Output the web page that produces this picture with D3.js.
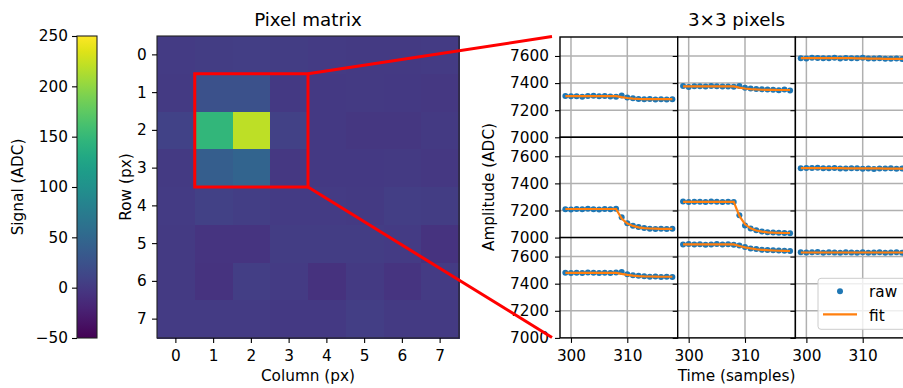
<!DOCTYPE html>
<html>
<head>
<meta charset="utf-8">
<title>Pixel matrix and 3x3 pixels</title>
<script src="https://d3js.org/d3.v7.min.js"></script>
<style>
  body { margin: 0; background: #fff; }
  text { font-family: "DejaVu Sans", sans-serif; fill: #000; }
</style>
</head>
<body>
<script>
// ---- data ----
const rows = [0, 1, 2, 3, 4, 5, 6, 7];
const cols = [0, 1, 2, 3, 4, 5, 6, 7];
const signal = [
  [2, 3, 4, 3, 2, 1, 1, 2],
  [1, 24, 24, 0, 0, 1, 0, -1],
  [9, 148, 220, 8, 0, -2, -2, 1],
  [1, 38, 45, -1, 0, 0, 1, -1],
  [2, 8, 4, 2, 2, 1, 4, 3],
  [1, -5, -5, 3, 3, 3, 2, -6],
  [1, -6, 5, 2, -7, 1, -5, 2],
  [2, 2, 2, 0, 0, 5, 1, 1]
];
const colorbarTicks = [-50, 0, 50, 100, 150, 200, 250];

const samples = [299, 300, 301, 302, 303, 304, 305, 306, 307, 308, 309, 310, 311, 312, 313, 314, 315, 316, 317, 318];
const raw = [
  [7305, 7302, 7303, 7300, 7304, 7306, 7303, 7305, 7301, 7300, 7308, 7293, 7288, 7282, 7280, 7283, 7279, 7281, 7278, 7280],
  [7378, 7372, 7376, 7377, 7375, 7378, 7376, 7374, 7375, 7373, 7378, 7365, 7360, 7356, 7354, 7352, 7350, 7348, 7352, 7346],
  [7584, 7582, 7586, 7585, 7583, 7584, 7586, 7582, 7585, 7583, 7584, 7586, 7581, 7582, 7584, 7580, 7579, 7582, 7578, 7575],
  [7210, 7208, 7211, 7209, 7212, 7210, 7208, 7211, 7209, 7212, 7150, 7105, 7088, 7078, 7070, 7066, 7064, 7066, 7063, 7065],
  [7266, 7262, 7264, 7265, 7263, 7266, 7264, 7262, 7265, 7263, 7165, 7090, 7068, 7055, 7045, 7040, 7037, 7036, 7034, 7033],
  [7512, 7514, 7513, 7515, 7511, 7512, 7514, 7510, 7509, 7512, 7511, 7508, 7510, 7507, 7510, 7509, 7511, 7508, 7510, 7509],
  [7480, 7478, 7481, 7479, 7482, 7480, 7478, 7481, 7479, 7482, 7486, 7470, 7462, 7458, 7455, 7452, 7453, 7450, 7452, 7449],
  [7690, 7692, 7689, 7691, 7688, 7690, 7692, 7689, 7691, 7688, 7682, 7670, 7660, 7655, 7650, 7648, 7646, 7645, 7643, 7641],
  [7632, 7630, 7631, 7633, 7629, 7631, 7630, 7628, 7632, 7630, 7629, 7631, 7628, 7630, 7632, 7629, 7630, 7631, 7628, 7630]
];
const fit = [
  [7304, 7304, 7304, 7304, 7304, 7304, 7304, 7304, 7304, 7304, 7296, 7290, 7286, 7283, 7282, 7281, 7281, 7281, 7281, 7281],
  [7376, 7376, 7376, 7376, 7376, 7376, 7376, 7376, 7376, 7376, 7366, 7360, 7356, 7353, 7351, 7350, 7350, 7349, 7349, 7349],
  [7584, 7584, 7584, 7584, 7584, 7584, 7584, 7584, 7584, 7584, 7583, 7582, 7581, 7580, 7580, 7579, 7579, 7579, 7578, 7578],
  [7211, 7211, 7211, 7211, 7211, 7211, 7211, 7211, 7211, 7211, 7140, 7104, 7086, 7076, 7070, 7067, 7066, 7065, 7065, 7065],
  [7264, 7264, 7264, 7264, 7264, 7264, 7264, 7264, 7264, 7264, 7160, 7098, 7068, 7052, 7044, 7039, 7036, 7035, 7034, 7034],
  [7512, 7512, 7512, 7512, 7512, 7512, 7512, 7512, 7511, 7511, 7511, 7510, 7510, 7510, 7510, 7509, 7509, 7509, 7509, 7509],
  [7480, 7480, 7480, 7480, 7480, 7480, 7480, 7480, 7480, 7480, 7472, 7465, 7460, 7456, 7454, 7453, 7452, 7451, 7451, 7451],
  [7690, 7690, 7690, 7690, 7690, 7690, 7690, 7690, 7690, 7690, 7678, 7668, 7660, 7654, 7650, 7647, 7645, 7643, 7642, 7641],
  [7630, 7630, 7630, 7630, 7630, 7630, 7630, 7630, 7630, 7630, 7630, 7630, 7630, 7630, 7630, 7630, 7630, 7630, 7630, 7630]
];
const timeTicks = [300, 310];
const ampTicks = [7000, 7200, 7400, 7600];
const legendLabels = ["raw", "fit"];

// ---- layout ----
const W = 903, H = 388;
const fs = 15.3, titleFs = 18.3;
const blue = "#1f77b4", orange = "#ff7f0e", gridC = "#b0b0b0";

const svg = d3.select("body").append("svg").attr("width", W).attr("height", H);

// colour scale
const color = d3.scaleSequential(d3.interpolateViridis).domain([-50, 250]);

// colorbar
const cb = { x: 77, w: 20, y0: 36, y1: 338 };
const grad = svg.append("defs").append("linearGradient")
  .attr("id", "viridis").attr("x1", 0).attr("y1", 1).attr("x2", 0).attr("y2", 0);
d3.range(0, 1.0001, 0.05).forEach(t => {
  grad.append("stop").attr("offset", t).attr("stop-color", d3.interpolateViridis(t));
});
svg.append("rect").attr("x", cb.x).attr("y", cb.y0).attr("width", cb.w).attr("height", cb.y1 - cb.y0)
  .attr("fill", "url(#viridis)").attr("stroke", "#222").attr("stroke-width", 1.1);
const cbScale = d3.scaleLinear().domain([-50, 250]).range([cb.y1, cb.y0]);
svg.append("g").attr("transform", `translate(${cb.x},0)`)
  .call(d3.axisLeft(cbScale).tickValues(colorbarTicks).tickSize(5).tickPadding(4));
svg.append("text").attr("transform", `translate(23,187) rotate(-90)`)
  .attr("text-anchor", "middle").style("font-size", fs + "px").text("Signal (ADC)");

// pixel matrix
const mx = { x0: 157, y0: 36, size: 302 };
const xBand = d3.scaleBand().domain(cols).range([mx.x0, mx.x0 + mx.size]);
const yBand = d3.scaleBand().domain(rows).range([mx.y0, mx.y0 + mx.size]);
const cells = [];
rows.forEach(r => cols.forEach(c => cells.push({ r, c, v: signal[r][c] })));
svg.append("g").attr("shape-rendering", "crispEdges").selectAll("rect").data(cells).join("rect")
  .attr("x", d => xBand(d.c)).attr("y", d => yBand(d.r))
  .attr("width", xBand.bandwidth() + 1).attr("height", yBand.bandwidth() + 1)
  .attr("fill", d => color(d.v));
svg.append("rect").attr("x", mx.x0).attr("y", mx.y0).attr("width", mx.size).attr("height", mx.size)
  .attr("fill", "none").attr("stroke", "#222").attr("stroke-width", 1.1);
svg.append("g").attr("transform", `translate(0,${mx.y0 + mx.size})`)
  .call(d3.axisBottom(xBand).tickSize(5).tickPadding(7));
svg.append("g").attr("transform", `translate(${mx.x0},0)`)
  .call(d3.axisLeft(yBand).tickSize(5).tickPadding(5.3));
svg.append("text").attr("x", mx.x0 + mx.size / 2).attr("y", 26).attr("text-anchor", "middle")
  .style("font-size", titleFs + "px").text("Pixel matrix");
svg.append("text").attr("x", mx.x0 + mx.size / 2).attr("y", 381).attr("text-anchor", "middle")
  .style("font-size", fs + "px").text("Column (px)");
svg.append("text").attr("transform", `translate(131,187) rotate(-90)`)
  .attr("text-anchor", "middle").style("font-size", fs + "px").text("Row (px)");

// 3x3 grid of traces
const gridL = 560, gridT = 37, colW = 117.7, rowH = 100.3;
const x = d3.scaleLinear().domain([298.05, 318.95]).range([0, colW]);
const y = d3.scaleLinear().domain([7000, 7740]).range([rowH, 0]);
const line = d3.line().x((d, i) => x(samples[i])).y(d => y(d));

raw.forEach((series, i) => {
  const r = Math.floor(i / 3), c = i % 3;
  const g = svg.append("g").attr("transform", `translate(${gridL + c * colW},${gridT + r * rowH})`);
  g.append("rect").attr("width", colW).attr("height", rowH).attr("fill", "#fff");
  const clipId = "clip" + i;
  g.append("clipPath").attr("id", clipId).append("rect").attr("width", colW).attr("height", rowH);
  const inner = g.append("g").attr("clip-path", `url(#${clipId})`);
  inner.selectAll(".gx").data(timeTicks).join("line")
    .attr("x1", d => x(d)).attr("x2", d => x(d)).attr("y1", 0).attr("y2", rowH)
    .attr("stroke", gridC).attr("stroke-width", 1.5);
  inner.selectAll(".gy").data(ampTicks).join("line")
    .attr("x1", 0).attr("x2", colW).attr("y1", d => y(d)).attr("y2", d => y(d))
    .attr("stroke", gridC).attr("stroke-width", 1.5);
  inner.selectAll("circle").data(series).join("circle")
    .attr("cx", (d, k) => x(samples[k])).attr("cy", d => y(d)).attr("r", 3).attr("fill", blue);
  inner.append("path").datum(fit[i]).attr("d", line)
    .attr("fill", "none").attr("stroke", orange).attr("stroke-width", 2.2);

  const ay = d3.axisLeft(y).tickValues(ampTicks).tickSize(5).tickPadding(6).tickFormat(d3.format("d"));
  if (c > 0) ay.tickFormat("");
  g.append("g").call(ay);
  if (r === 2) {
    g.append("g").attr("transform", `translate(0,${rowH})`)
      .call(d3.axisBottom(x).tickValues(timeTicks).tickSize(5).tickPadding(7));
  }
  g.append("rect").attr("width", colW).attr("height", rowH)
    .attr("fill", "none").attr("stroke", "#000").attr("stroke-width", 1.4);

  if (i === 8) {
    const lg = g.append("g").attr("transform", "translate(22.6,40.7)");
    lg.append("rect").attr("width", 120).attr("height", 51).attr("rx", 3)
      .attr("fill", "#fff").attr("fill-opacity", 0.8).attr("stroke", "#ccc");
    lg.append("circle").attr("cx", 22).attr("cy", 13).attr("r", 3).attr("fill", blue);
    lg.append("line").attr("x1", 5).attr("x2", 39).attr("y1", 36).attr("y2", 36)
      .attr("stroke", orange).attr("stroke-width", 2.2);
    lg.selectAll("text").data(legendLabels).join("text")
      .attr("x", 51).attr("y", (d, k) => 18.5 + k * 24).style("font-size", fs + "px").text(d => d);
  }
});

svg.append("text").attr("x", gridL + 1.5 * colW).attr("y", 26).attr("text-anchor", "middle")
  .style("font-size", titleFs + "px").text("3×3 pixels");
svg.append("text").attr("x", gridL + 1.5 * colW).attr("y", 381).attr("text-anchor", "middle")
  .style("font-size", fs + "px").text("Time (samples)");
svg.append("text").attr("transform", `translate(494,187) rotate(-90)`)
  .attr("text-anchor", "middle").style("font-size", fs + "px").text("Amplitude (ADC)");

// style the axes like matplotlib
svg.selectAll(".domain").remove();
svg.selectAll(".tick line").attr("stroke", "#000").attr("stroke-width", 1.1);
svg.selectAll(".tick text").style("font-size", fs + "px").style("font-family", "DejaVu Sans").attr("fill", "#000");

// zoom box and connector lines
const bx0 = xBand(1), bx1 = xBand(3) + xBand.bandwidth();
const by0 = yBand(1), by1 = yBand(3) + yBand.bandwidth();
svg.append("rect").attr("x", bx0).attr("y", by0).attr("width", bx1 - bx0).attr("height", by1 - by0)
  .attr("fill", "none").attr("stroke", "#ff0000").attr("stroke-width", 3);
svg.append("line").attr("x1", bx1).attr("y1", by0).attr("x2", 552).attr("y2", 36.5)
  .attr("stroke", "#ff0000").attr("stroke-width", 3);
svg.append("line").attr("x1", bx1).attr("y1", by1).attr("x2", 552).attr("y2", 337.5)
  .attr("stroke", "#ff0000").attr("stroke-width", 3);
</script>
</body>
</html>
